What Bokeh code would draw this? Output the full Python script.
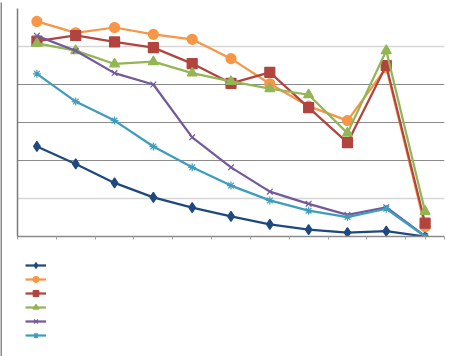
from bokeh.plotting import figure
from bokeh.models import FixedTicker, Grid, Legend, LegendItem, Range1d
from bokeh.layouts import column, row
from bokeh.embed import file_html
from bokeh.resources import INLINE

# categories 1..11
cats = [1, 2, 3, 4, 5, 6, 7, 8, 9, 10, 11]
s1 = [23.7, 19.1, 14.1, 10.3, 7.6, 5.3, 3.2, 1.8, 1.05, 1.4, 0.0]
s2 = [56.6, 53.6, 55.0, 53.2, 51.9, 46.8, 40.2, 34.3, 30.5, 44.4, 2.6]
s3 = [51.4, 52.9, 51.2, 49.7, 45.5, 40.3, 43.2, 33.9, 24.7, 45.0, 3.5]
s4 = [50.8, 48.9, 45.4, 46.0, 43.0, 40.8, 38.9, 37.3, 27.2, 48.9, 6.6]
s5 = [52.8, 48.9, 43.0, 40.0, 26.1, 18.2, 11.8, 8.6, 5.7, 7.7, 0.1]
s6 = [42.8, 35.5, 30.5, 23.7, 18.2, 13.4, 9.5, 6.8, 5.1, 7.3, 0.0]

series = [s1, s2, s3, s4, s5, s6]
colors = ["#1F497D", "#F79646", "#B2443F", "#93B555", "#74599A", "#3F9DBC"]
markers = ["diamond", "circle", "square", "triangle", "x", "asterisk"]
sizes = [10, 10, 10, 10, 8, 8]

x_ticks = [0.5, 1.5, 2.5, 3.5, 4.5, 5.5, 6.5, 7.5, 8.5, 9.5, 10.5, 11, 11.5]
dark_grid = [20, 30, 40]
light_grid = [10, 50, 60]

EDGE = "#8a8a8a"


def edge(w, h):
    e = figure(width=w, height=h, output_backend="svg", toolbar_location=None,
               x_axis_type=None, y_axis_type=None, min_border=0)
    e.outline_line_color = None
    e.background_fill_color = EDGE
    e.border_fill_color = EDGE
    e.xgrid.visible = False
    e.ygrid.visible = False
    return e


p = figure(width=450, height=245, output_backend="svg", toolbar_location=None,
           x_range=Range1d(0.5, 11.5), y_range=Range1d(0, 60),
           min_border_left=15, min_border_right=8, min_border_top=6,
           min_border_bottom=11)
p.outline_line_color = None
p.background_fill_color = "white"

p.xgrid.visible = False
p.ygrid.visible = False
p.add_layout(Grid(dimension=1, ticker=FixedTicker(ticks=dark_grid),
                  grid_line_color="#8a8a8a", grid_line_width=1))
p.add_layout(Grid(dimension=1, ticker=FixedTicker(ticks=light_grid),
                  grid_line_color="#d6d6d6", grid_line_width=1.5))

p.xaxis.ticker = FixedTicker(ticks=x_ticks)
p.xaxis.major_label_text_font_size = "0px"
p.xaxis.major_tick_in = 0
p.xaxis.major_tick_out = 3
p.xaxis.major_tick_line_color = "#a0a0a0"
p.xaxis.minor_tick_line_color = None
p.xaxis.axis_line_color = "#8a8a8a"
p.xaxis.axis_line_width = 1.5

p.yaxis.ticker = FixedTicker(ticks=[])
p.yaxis.major_label_text_font_size = "0px"
p.yaxis.major_tick_line_color = None
p.yaxis.minor_tick_line_color = None
p.yaxis.axis_line_color = "#7a7a7a"
p.yaxis.axis_line_width = 1.5

for ys, c, m, s in zip(series, colors, markers, sizes):
    p.line(cats, ys, line_color=c, line_width=2.25)
    p.scatter(cats, ys, marker=m, size=s, fill_color=c, line_color=c,
              line_width=1.2)

# legend panel (same series, drawn off-view so only the legend keys show)
p2 = figure(width=450, height=109, output_backend="svg", toolbar_location=None,
            x_range=Range1d(0.5, 11.5), y_range=Range1d(1000, 1060),
            x_axis_type=None, y_axis_type=None,
            min_border_left=0, min_border_right=0, min_border_top=0,
            min_border_bottom=0)
p2.outline_line_color = None
p2.xgrid.visible = False
p2.ygrid.visible = False

items = []
for ys, c, m, s in zip(series, colors, markers, sizes):
    ln = p2.line(cats, ys, line_color=c, line_width=2.25)
    sc = p2.scatter(cats, ys, marker=m, size=s, fill_color=c, line_color=c,
                    line_width=1.2)
    items.append(LegendItem(label=" ", renderers=[ln, sc]))

legend = Legend(items=items, location=(8, 14), orientation="vertical",
                glyph_width=21, glyph_height=14, label_height=14, spacing=0,
                padding=0, margin=0, label_standoff=0, label_width=0,
                label_text_font_size="6px", border_line_color=None,
                background_fill_alpha=0)
p2.add_layout(legend, "center")

layout = column(edge(452, 2),
                row(edge(2, 354), column(p, p2, spacing=0), spacing=0),
                spacing=0)
open("out.html", "w").write(file_html(layout, INLINE))
